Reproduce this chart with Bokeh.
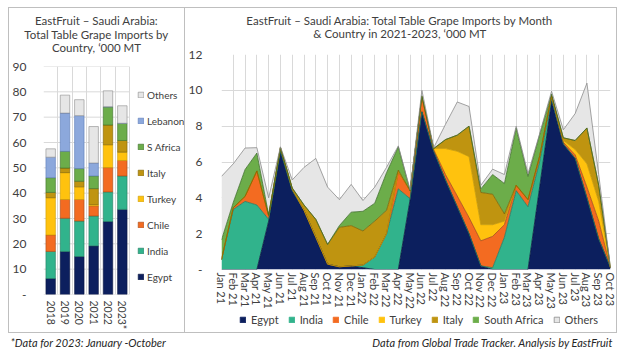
import numpy as np
from bokeh.plotting import figure
from bokeh.layouts import column, row
from bokeh.models import (ColumnDataSource, Range1d, FixedTicker, Legend, LegendItem, Spacer)
from bokeh.transform import stack
from bokeh.core.properties import value
from bokeh.embed import file_html
from bokeh.resources import INLINE

# ---------------- data: yearly totals ('000 MT) ----------------
years = ["2018", "2019", "2020", "2021", "2022", "2023*"]
yr_egypt = [6.3, 17.0, 15.0, 19.2, 28.8, 33.6]
yr_india = [10.7, 13.1, 14.0, 11.8, 11.7, 13.2]
yr_chile = [6.5, 7.4, 8.5, 4.0, 9.6, 6.1]
yr_turkey = [14.7, 10.6, 5.0, 0.5, 9.0, 3.3]
yr_italy = [2.1, 1.8, 2.2, 6.3, 7.8, 4.6]
yr_safrica = [5.8, 6.6, 5.0, 5.0, 7.2, 6.8]
yr_lebanon = [8.1, 15.1, 20.9, 5.1, 0.0, 0.0]
yr_others = [3.3, 7.1, 6.3, 14.4, 6.3, 6.9]
yr_ticks = [0, 10, 20, 30, 40, 50, 60, 70, 80, 90]

# ---------------- data: monthly ('000 MT) ----------------
months = ["Jan 21", "Feb 21", "Mar 21", "Apr 21", "May 21", "Jun 21", "Jul 21", "Aug 21",
          "Sep 21", "Oct 21", "Nov 21", "Dec 21",
          "Jan 22", "Feb 22", "Mar 22", "Apr 22", "May 22", "Jun 22", "Jul 22", "Aug 22",
          "Sep 22", "Oct 22", "Nov 22", "Dec 22",
          "Jan 23", "Feb 23", "Mar 23", "Apr 23", "May 23", "Jun 23", "Jul 23", "Aug 23",
          "Sep 23", "Oct 23"]
m_egypt = [0, 0, 0, 0, 2.7, 6.6, 4.4, 3.3, 1.8, 0.3, 0.15, 0.2,
           0.1, 0, 0, 0, 3.9, 8.8, 6.6, 5.0, 3.5, 2.0, 0.2, 0,
           0, 0, 0, 4.65, 9.4, 7.0, 6.2, 4.0, 1.7, 0.1]
m_india = [0.55, 3.35, 3.8, 3.6, 0.1, 0, 0, 0, 0, 0, 0, 0,
           0.15, 0.7, 2.0, 4.5, 0.05, 0, 0, 0, 0, 0, 0, 0.1,
           1.8, 4.4, 3.5, 1.4, 0.1, 0, 0, 0, 0, 0]
m_chile = [0, 0.1, 0.28, 1.9, 0.2, 0.2, 0.1, 0, 0, 0, 0, 0,
           0, 0, 0, 0.95, 0.45, 0.85, 0.1, 0.3, 0.6, 0.9, 1.4, 1.75,
           0.7, 0.3, 0.4, 0.3, 0.2, 0.1, 0.2, 0.6, 1.0, 0]
m_turkey = [0, 0, 0, 0, 0, 0, 0, 0, 0, 0, 0, 0,
            0, 0, 0, 0, 0, 0, 0.05, 1.45, 2.5, 3.4, 0.9, 0.65,
            0.2, 0, 0, 0, 0, 0.1, 0.3, 1.3, 1.1, 0]
m_italy = [0, 0, 0, 0, 0, 0, 0.05, 0.3, 1.0, 1.1, 2.2, 2.25,
           1.9, 2.0, 1.3, 0.1, 0, 0, 0, 0.5, 0.9, 1.7, 1.8, 1.7,
           0.4, 0, 0, 0, 0, 0.15, 0.5, 2.0, 0.9, 0]
m_safrica = [1.1, 0.3, 1.5, 1.0, 0.05, 0, 0, 0, 0, 0, 0.1, 0.75,
             1.1, 1.0, 2.1, 1.3, 0, 0.05, 0, 0, 0, 0, 0.2, 1.1,
             1.7, 3.2, 1.3, 1.2, 0.1, 0, 0, 0, 0, 0]
m_others = [3.55, 2.15, 1.2, 0.3, 0.95, 0.05, 0.45, 2.1, 3.4, 3.2, 1.45, 1.55,
            0.6, 0.9, 0.3, 0.05, 0.05, 0.3, 0.05, 0.85, 1.85, 1.1, 0.2, 0.3,
            0.5, 0.1, 0.15, 0.05, 0.15, 0.45, 1.5, 2.5, 0.6, 0]
m_ticks = [0, 2, 4, 6, 8, 10, 12]

# ---------------- texts ----------------
title_left = ["EastFruit \u2013 Saudi Arabia:", "Total Table Grape Imports by", "Country, \u2018000 MT"]
title_right = ["EastFruit \u2013 Saudi Arabia: Total Table Grape Imports by Month",
               "& Country in 2021-2023, \u2018000 MT"]
note_left = "*Data for 2023: January -October"
note_right = "Data from Global Trade Tracker. Analysis by EastFruit"

# ---------------- styles ----------------
FONT = "Lato"
TXT = "#404040"
GRID = "#D9D9D9"
BORDER = "#BFBFBF"
FILL = {"Egypt": "#0C1F5E", "India": "#31B38C", "Chile": "#F36B21", "Turkey": "#FFC20E",
        "Italy": "#BF9410", "S Africa": "#6CAD4A", "Lebanon": "#8CA8DC", "Others": "#E6E6E6"}
EDGE = {"Egypt": "#0A1640", "India": "#217A60", "Chile": "#A54A17", "Turkey": "#C99A00",
        "Italy": "#7F6300", "S Africa": "#3E6E2A", "Lebanon": "#5B7BB8", "Others": "#8C8C8C"}

WL, WR = 175, 431                 # inner widths of the two panels
HTL, HCL = 50, 274                # left panel: title block, chart
HTR, HCR, HLR = 38, 266, 20       # right panel: title block, chart, legend strip
HP = HTL + HCL                    # 324
HF = 28
BAR_PX = 86.6                     # pixel width of the six bar slots


def blank(w, h, xr=None, yr=None):
    f = figure(width=w, height=h, output_backend="svg", toolbar_location=None, title=None,
               x_range=xr or Range1d(0, w), y_range=yr or Range1d(0, h), x_axis_location=None,
               y_axis_location=None, min_border=0, frame_align=False)
    f.grid.visible = False
    f.outline_line_color = None
    return f


def text_block(w, h, lines, cx, ys, size):
    t = blank(w, h)
    t.text(x=[cx] * len(lines), y=[h - y for y in ys], text=lines, text_font=value(FONT),
           text_font_size=size, text_color=TXT, text_align="center", text_baseline="middle")
    return t


def style_axes(p):
    for ax in (p.xaxis[0], p.yaxis[0]):
        ax.axis_line_color = None
        ax.major_tick_line_color = None
        ax.minor_tick_line_color = None
        ax.major_tick_out = 0
        ax.major_tick_in = 0
        ax.major_label_text_font = FONT
        ax.major_label_text_color = TXT
    p.outline_line_color = None
    p.xgrid.grid_line_color = GRID
    p.ygrid.grid_line_color = GRID


def hline(w):
    return Spacer(width=w, height=1, styles={"background-color": BORDER})


def vline(h):
    return Spacer(width=1, height=h, styles={"background-color": BORDER})


# ---------------- left chart ----------------
names_l = ["Egypt", "India", "Chile", "Turkey", "Italy", "S Africa", "Lebanon", "Others"]
src_l = ColumnDataSource(dict(x=[i + 0.5 for i in range(len(years))],
                              **{"Egypt": yr_egypt, "India": yr_india, "Chile": yr_chile,
                                 "Turkey": yr_turkey, "Italy": yr_italy, "S Africa": yr_safrica,
                                 "Lebanon": yr_lebanon, "Others": yr_others}))
ML, MR = 33, 0
x_end = len(years) * (WL - ML - MR) / BAR_PX    # frame also holds the legend on its right
pl = figure(width=WL, height=HCL, output_backend="svg", toolbar_location=None, title=None,
            x_range=Range1d(0, x_end), y_range=Range1d(0, 90), frame_align=False,
            min_border_left=ML, min_border_right=MR, min_border_top=8, min_border_bottom=37)
style_axes(pl)
pl.ygrid.visible = False
pl.segment(x0=[0] * len(yr_ticks), x1=[len(years)] * len(yr_ticks), y0=yr_ticks, y1=yr_ticks,
           line_color=GRID, line_width=1)
rl = pl.vbar_stack(names_l, x="x", width=0.66, source=src_l,
                   color=[FILL[n] for n in names_l], line_color=[EDGE[n] for n in names_l],
                   line_width=0.6)
pl.yaxis.ticker = FixedTicker(ticks=yr_ticks)
pl.yaxis.major_label_overrides = {0: "-"}
pl.yaxis.major_label_text_font_size = "12px"
pl.yaxis.major_label_standoff = 17
pl.xaxis.ticker = FixedTicker(ticks=[i + 0.5 for i in range(len(years))])
pl.xaxis.major_label_overrides = {i + 0.5: y for i, y in enumerate(years)}
pl.xaxis.major_label_orientation = "vertical"
pl.xaxis.major_label_text_font_size = "10.5px"
pl.xaxis.major_label_standoff = 6
pl.xgrid.ticker = FixedTicker(ticks=list(range(len(years) + 1)))

leg_l = Legend(items=[LegendItem(label=n, renderers=[r]) for n, r in reversed(list(zip(names_l, rl)))],
               location=(94, 11), orientation="vertical", padding=0, margin=0,
               spacing=13, glyph_width=7, glyph_height=7, label_height=13, label_standoff=3,
               label_text_font=FONT, label_text_font_size="10px", label_text_color=TXT,
               background_fill_alpha=0, border_line_color=None)
pl.add_layout(leg_l, "center")

tl = text_block(WL, HTL, title_left, 87, [12, 25.5, 39.3], "11.5px")

# ---------------- right chart ----------------
names_r = ["Egypt", "India", "Chile", "Turkey", "Italy", "S Africa", "Others"]
labels_r = ["Egypt", "India", "Chile", "Turkey", "Italy", "South Africa", "Others"]
src_r = ColumnDataSource(dict(x=list(range(len(months))),
                              **{"Egypt": m_egypt, "India": m_india, "Chile": m_chile,
                                 "Turkey": m_turkey, "Italy": m_italy, "S Africa": m_safrica,
                                 "Others": m_others}))
pr = figure(width=WR, height=HCR, output_backend="svg", toolbar_location=None, title=None,
            x_range=Range1d(0, len(months) - 1), y_range=Range1d(0, 12), frame_align=False,
            min_border_left=35, min_border_right=6, min_border_top=8, min_border_bottom=39)
rr = pr.varea_stack(names_r, x="x", source=src_r, color=[FILL[n] for n in names_r])
for k, n in enumerate(names_r):
    pr.line(x="x", y=stack(*names_r[:k + 1]), source=src_r, line_color=EDGE[n], line_width=0.8)
style_axes(pr)
pr.yaxis.ticker = FixedTicker(ticks=m_ticks)
pr.yaxis.major_label_overrides = {0: "-"}
pr.yaxis.major_label_text_font_size = "12px"
pr.yaxis.major_label_standoff = 19
pr.xaxis.ticker = FixedTicker(ticks=list(range(len(months))))
pr.xaxis.major_label_overrides = {i: m for i, m in enumerate(months)}
pr.xaxis.major_label_orientation = "vertical"
pr.xaxis.major_label_text_font_size = "11px"
pr.xaxis.major_label_standoff = 3
pr.xgrid.ticker = FixedTicker(ticks=list(range(len(months))))
pr.ygrid.ticker = FixedTicker(ticks=m_ticks)

# legend strip under the right chart: the same monthly stacks, kept out of its view range,
# serve as the legend's glyph renderers
lg = blank(WR, HLR, xr=Range1d(0, len(months) - 1), yr=Range1d(100, 101))
lg_r = lg.vbar_stack(names_r, x="x", width=0.5, source=src_r,
                     color=[FILL[n] for n in names_r],
                     line_color=[EDGE[n] if n == "Others" else FILL[n] for n in names_r],
                     line_width=0.8)
leg_r = Legend(items=[LegendItem(label=l, renderers=[r]) for l, r in zip(labels_r, lg_r)],
               location=(54, 6.5), orientation="horizontal", padding=0, margin=0,
               spacing=9, glyph_width=7, glyph_height=7, label_height=13, label_standoff=5,
               label_text_font=FONT, label_text_font_size="11px", label_text_color=TXT,
               background_fill_alpha=0, border_line_color=None)
lg.add_layout(leg_r, "center")

tr = text_block(WR, HTR, title_right, 214.5, [12, 25.3], "11.5px")

# ---------------- footer ----------------
pf = blank(626, HF)
pf.text(x=[10], y=[HF - 9], text=[note_left], text_font=value(FONT),
        text_font_style="italic", text_font_size="11px", text_color="#262626",
        text_align="left", text_baseline="middle")
pf.text(x=[613], y=[HF - 9], text=[note_right],
        text_font=value(FONT), text_font_style="italic", text_font_size="11px",
        text_color="#262626", text_align="right", text_baseline="middle")

# ---------------- layout with 1px panel borders ----------------
panels = row(vline(HP + 2),
             column(hline(WL), tl, pl, hline(WL)),
             vline(HP + 2),
             column(hline(WR), tr, pr, lg, hline(WR)),
             vline(HP + 2))
layout = column(Spacer(height=7), row(Spacer(width=8), panels), pf)
open("out.html", "w").write(file_html(layout, INLINE))
